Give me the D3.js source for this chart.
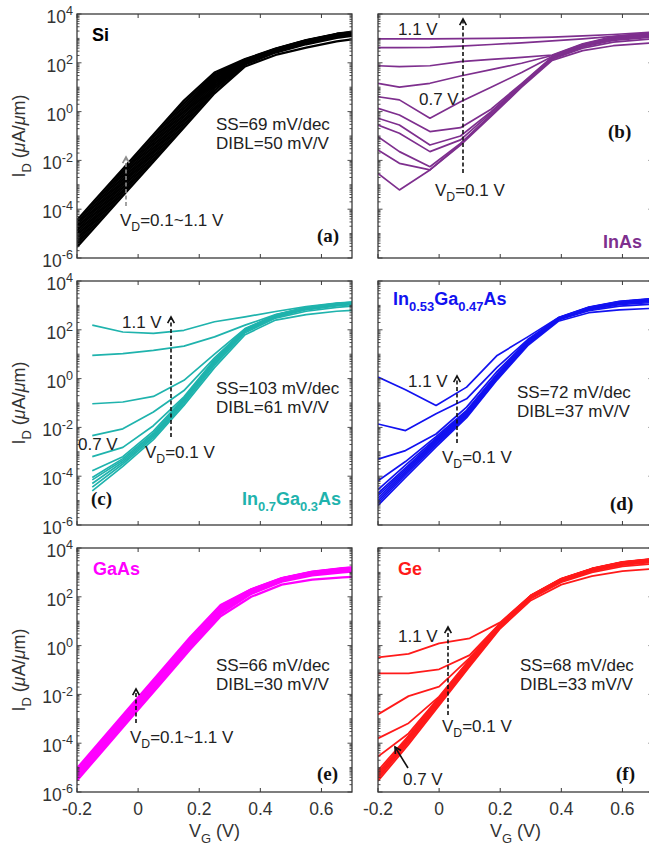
<!DOCTYPE html>
<html>
<head>
<meta charset="utf-8">
<script src="https://cdn.jsdelivr.net/npm/d3@7/dist/d3.min.js"></script>
<style>
  body { margin: 0; background: #fff; }
  svg { display: block; font-family: "Liberation Sans", Arial, sans-serif; }
</style>
</head>
<body>
<svg id="fig" width="649" height="849"></svg>
<script>
// drain voltages, one curve each (bottom -> top)
const vdSteps = [0.1, 0.2, 0.3, 0.4, 0.5, 0.6, 0.7, 0.8, 0.9, 1.0, 1.1];

const xTicks = [-0.2, 0, 0.2, 0.4, 0.6];
const yTickExps = [4, 2, 0, -2, -4, -6];

// log10(ID in uA/um), rows follow vdSteps
const vgSi = [-0.2, -0.15, -0.05, 0.05, 0.15, 0.25, 0.35, 0.45, 0.55, 0.65, 0.7];
const logIdSi = [
  [-5.55, -4.85, -3.45, -2.05, -0.65, 0.75, 1.85, 2.32, 2.62, 2.88, 2.96],
  [-5.44, -4.74, -3.34, -1.94, -0.54, 0.86, 1.93, 2.42, 2.76, 3.02, 3.10],
  [-5.33, -4.63, -3.23, -1.83, -0.43, 0.96, 1.98, 2.47, 2.82, 3.08, 3.16],
  [-5.22, -4.52, -3.12, -1.72, -0.32, 1.05, 2.01, 2.50, 2.85, 3.11, 3.19],
  [-5.11, -4.41, -3.01, -1.61, -0.21, 1.14, 2.03, 2.52, 2.87, 3.13, 3.21],
  [-5.00, -4.30, -2.90, -1.50, -0.10, 1.22, 2.05, 2.53, 2.88, 3.14, 3.22],
  [-4.89, -4.19, -2.79, -1.39, 0.01, 1.30, 2.07, 2.54, 2.89, 3.15, 3.23],
  [-4.78, -4.08, -2.68, -1.28, 0.12, 1.38, 2.09, 2.55, 2.90, 3.16, 3.24],
  [-4.67, -3.97, -2.57, -1.17, 0.23, 1.45, 2.11, 2.56, 2.91, 3.17, 3.25],
  [-4.56, -3.86, -2.46, -1.06, 0.34, 1.52, 2.13, 2.57, 2.92, 3.18, 3.26],
  [-4.45, -3.75, -2.35, -0.95, 0.45, 1.60, 2.15, 2.58, 2.93, 3.19, 3.27]
];

const vgInAs = [-0.2, -0.13, -0.03, 0.07, 0.17, 0.27, 0.37, 0.47, 0.57, 0.7];
const logIdInAs = [
  [-2.53, -3.21, -2.39, -1.37, -0.20, 1.00, 2.10, 2.50, 2.70, 2.82],
  [-1.57, -2.12, -2.39, -1.33, -0.15, 1.05, 2.15, 2.60, 2.85, 2.98],
  [-1.03, -1.64, -2.26, -1.30, -0.12, 1.08, 2.18, 2.65, 2.92, 3.06],
  [-0.55, -0.89, -1.64, -1.16, -0.05, 1.10, 2.20, 2.68, 2.96, 3.10],
  [-0.27, -0.55, -1.37, -1.00, 0.00, 1.12, 2.22, 2.70, 2.99, 3.13],
  [0.13, -0.14, -0.82, -0.66, 0.10, 1.15, 2.24, 2.72, 3.01, 3.16],
  [0.61, 0.48, -0.27, 0.40, 1.00, 1.60, 2.26, 2.74, 3.03, 3.18],
  [1.16, 1.00, 1.16, 1.46, 1.72, 1.98, 2.30, 2.76, 3.05, 3.20],
  [1.88, 1.84, 1.88, 2.05, 2.14, 2.22, 2.32, 2.78, 3.07, 3.22],
  [2.62, 2.62, 2.63, 2.68, 2.75, 2.82, 2.90, 2.98, 3.08, 3.23],
  [2.98, 2.98, 2.98, 2.99, 3.00, 3.02, 3.05, 3.10, 3.16, 3.26]
];

const vgIn70 = [-0.15, -0.05, 0.05, 0.15, 0.25, 0.35, 0.45, 0.55, 0.65, 0.7];
const logIdIn70 = [
  [-4.60, -3.60, -2.50, -1.10, 0.45, 1.80, 2.40, 2.62, 2.76, 2.80],
  [-4.45, -3.50, -2.42, -1.02, 0.55, 1.88, 2.48, 2.76, 2.92, 2.97],
  [-4.30, -3.42, -2.36, -0.96, 0.62, 1.93, 2.52, 2.82, 2.98, 3.03],
  [-4.15, -3.35, -2.30, -0.90, 0.68, 1.96, 2.55, 2.85, 3.01, 3.06],
  [-4.05, -3.28, -2.24, -0.85, 0.72, 1.98, 2.57, 2.87, 3.03, 3.08],
  [-3.78, -3.20, -2.15, -0.80, 0.75, 2.00, 2.58, 2.88, 3.04, 3.09],
  [-3.20, -2.82, -1.93, -0.75, 0.78, 2.02, 2.59, 2.89, 3.05, 3.10],
  [-2.34, -2.06, -1.37, -0.49, 0.85, 2.03, 2.60, 2.90, 3.06, 3.11],
  [-1.03, -0.96, -0.73, -0.07, 1.00, 2.05, 2.61, 2.91, 3.07, 3.12],
  [0.95, 1.02, 1.16, 1.33, 1.71, 2.19, 2.62, 2.92, 3.08, 3.13],
  [2.19, 1.91, 1.85, 1.98, 2.33, 2.53, 2.75, 2.95, 3.09, 3.14]
];

const vgIn53 = [-0.2, -0.11, -0.01, 0.09, 0.19, 0.29, 0.39, 0.49, 0.59, 0.7];
const logIdIn53 = [
  [-5.20, -4.05, -2.80, -1.60, -0.05, 1.35, 2.35, 2.70, 2.82, 2.88],
  [-5.10, -3.95, -2.72, -1.55, 0.00, 1.40, 2.40, 2.78, 2.97, 3.05],
  [-5.00, -3.87, -2.66, -1.50, 0.04, 1.43, 2.42, 2.82, 3.03, 3.12],
  [-4.90, -3.80, -2.60, -1.46, 0.07, 1.45, 2.43, 2.85, 3.07, 3.17],
  [-4.80, -3.73, -2.55, -1.42, 0.10, 1.47, 2.44, 2.87, 3.10, 3.20],
  [-4.70, -3.66, -2.50, -1.38, 0.13, 1.49, 2.45, 2.88, 3.12, 3.22],
  [-4.55, -3.55, -2.45, -1.34, 0.16, 1.50, 2.46, 2.89, 3.13, 3.24],
  [-4.19, -3.40, -2.38, -1.30, 0.20, 1.52, 2.47, 2.90, 3.14, 3.25],
  [-3.30, -2.95, -2.27, -1.17, 0.30, 1.55, 2.48, 2.91, 3.15, 3.26],
  [-1.86, -2.13, -1.44, -0.83, 0.47, 1.60, 2.49, 2.92, 3.16, 3.27],
  [0.06, -0.46, -1.10, -0.35, 0.95, 1.71, 2.50, 2.93, 3.17, 3.28]
];

const vgGaAs = [-0.2, -0.13, -0.03, 0.07, 0.17, 0.27, 0.37, 0.47, 0.57, 0.67, 0.7];
const logIdGaAs = [
  [-5.53, -4.51, -3.06, -1.61, -0.16, 1.20, 2.00, 2.50, 2.70, 2.80, 2.82],
  [-5.48, -4.46, -3.01, -1.56, -0.11, 1.30, 2.12, 2.62, 2.88, 3.00, 3.03],
  [-5.43, -4.41, -2.96, -1.51, -0.06, 1.36, 2.17, 2.66, 2.93, 3.06, 3.09],
  [-5.38, -4.36, -2.91, -1.46, -0.01, 1.41, 2.20, 2.69, 2.96, 3.09, 3.12],
  [-5.33, -4.31, -2.86, -1.41, 0.04, 1.46, 2.23, 2.71, 2.97, 3.11, 3.14],
  [-5.28, -4.26, -2.81, -1.36, 0.09, 1.50, 2.25, 2.72, 2.98, 3.12, 3.15],
  [-5.23, -4.21, -2.76, -1.31, 0.14, 1.54, 2.27, 2.73, 2.99, 3.13, 3.16],
  [-5.18, -4.16, -2.71, -1.26, 0.19, 1.57, 2.28, 2.74, 3.00, 3.14, 3.17],
  [-5.13, -4.11, -2.66, -1.21, 0.24, 1.60, 2.29, 2.75, 3.01, 3.15, 3.18],
  [-5.08, -4.06, -2.61, -1.16, 0.29, 1.63, 2.30, 2.76, 3.02, 3.16, 3.19],
  [-5.03, -4.01, -2.56, -1.11, 0.34, 1.66, 2.31, 2.77, 3.03, 3.17, 3.20]
];

const vgGe = [-0.2, -0.1, 0, 0.1, 0.2, 0.3, 0.4, 0.5, 0.6, 0.7];
const logIdGe = [
  [-5.55, -4.05, -2.45, -0.85, 0.70, 1.85, 2.50, 2.85, 3.05, 3.15],
  [-5.45, -3.96, -2.38, -0.80, 0.75, 1.92, 2.60, 3.00, 3.25, 3.35],
  [-5.38, -3.89, -2.32, -0.76, 0.78, 1.96, 2.64, 3.05, 3.30, 3.42],
  [-5.30, -3.83, -2.27, -0.72, 0.80, 1.98, 2.67, 3.08, 3.34, 3.46],
  [-5.22, -3.77, -2.22, -0.68, 0.82, 2.00, 2.69, 3.10, 3.36, 3.49],
  [-5.12, -3.70, -2.16, -0.64, 0.84, 2.02, 2.71, 3.12, 3.38, 3.51],
  [-4.55, -3.60, -2.12, -0.60, 0.86, 2.03, 2.72, 3.13, 3.40, 3.53],
  [-3.80, -3.18, -2.09, -0.56, 0.88, 2.04, 2.73, 3.14, 3.41, 3.54],
  [-2.82, -2.07, -1.68, -0.50, 0.90, 2.05, 2.74, 3.15, 3.42, 3.55],
  [-1.14, -1.14, -0.97, -0.39, 0.92, 2.05, 2.74, 3.15, 3.42, 3.55],
  [-0.48, -0.34, 0.09, 0.30, 0.95, 2.06, 2.75, 3.16, 3.43, 3.56]
];

const ssText = ["SS=69 mV/dec", "", "SS=103 mV/dec", "SS=72 mV/dec", "SS=66 mV/dec", "SS=68 mV/dec"];
const diblText = ["DIBL=50 mV/V", "", "DIBL=61 mV/V", "DIBL=37 mV/V", "DIBL=30 mV/V", "DIBL=33 mV/V"];

// layout
const PW = 275, PH = 244;
const colX = [77, 378], rowY = [14, 281, 548];
const axisColor = "#3a3a3a";

const x = d3.scaleLinear().domain([-0.2, 0.7]).range([0, PW]);
const y = d3.scaleLog().domain([1e-6, 1e4]).range([PH, 0]);

const svg = d3.select("#fig");
const defs = svg.append("defs");

// text with sub/superscripts: parts = [[str, kind]], kind in sub|sup|it
function rich(g, px, py, parts, size, opt) {
  opt = opt || {};
  const t = g.append("text").attr("x", px).attr("y", py)
    .attr("font-size", size)
    .attr("fill", opt.fill || "#222")
    .attr("text-anchor", opt.anchor || "start");
  if (opt.weight) t.attr("font-weight", opt.weight);
  if (opt.transform) t.attr("transform", opt.transform);
  let shift = 0;
  parts.forEach(p => {
    const s = t.append("tspan").text(p[0]);
    let want = 0;
    if (p[1] === "sub") { want = size * 0.32; s.attr("font-size", size * 0.72); }
    if (p[1] === "sup") { want = -size * 0.45; s.attr("font-size", size * 0.72); }
    if (p[1] === "it") s.attr("font-style", "italic");
    if (want !== shift) { s.attr("dy", want - shift); shift = want; }
  });
  return t;
}

function arrow(g, x1, y1, x2, y2, color, dashed) {
  g.append("line").attr("x1", x1).attr("y1", y1).attr("x2", x2).attr("y2", y2)
    .attr("stroke", color).attr("stroke-width", 1.6)
    .attr("stroke-dasharray", dashed ? "4,2.5" : null);
  const a = Math.atan2(y2 - y1, x2 - x1), L = 7, w = 0.5;
  const p1 = [x2 - L * Math.cos(a - w), y2 - L * Math.sin(a - w)];
  const p2 = [x2 - L * Math.cos(a + w), y2 - L * Math.sin(a + w)];
  g.append("path").attr("d", `M${p1}L${x2},${y2}L${p2}`)
    .attr("fill", "none").attr("stroke", color).attr("stroke-width", 1.6);
}

const panels = [
  { tag: "(a)", col: 0, row: 0, vg: vgSi, data: logIdSi, color: "#000000", lw: 2.3,
    name: [["Si"]], nameAt: [15, 27, "start"], tagAt: [240, 228], ssAt: [139, 116],
    arrows: [[49, 192, 49, 143, "#8c8c8c", true]],
    notes: [[43, 212, [["V"], ["D", "sub"], ["=0.1~1.1 V"]]]] },
  { tag: "(b)", col: 1, row: 0, vg: vgInAs, data: logIdInAs, color: "#7e2f8e", lw: 1.7,
    name: [["InAs"]], nameAt: [264, 234, "end"], tagAt: [230, 124], ssAt: null,
    arrows: [[85, 159, 85, 5, "#111", true]],
    notes: [[20, 21, [["1.1 V"]]], [41, 91, [["0.7 V"]]], [57, 182, [["V"], ["D", "sub"], ["=0.1 V"]]]] },
  { tag: "(c)", col: 0, row: 1, vg: vgIn70, data: logIdIn70, color: "#1fb3ad", lw: 1.7,
    name: [["In"], ["0.7", "sub"], ["Ga"], ["0.3", "sub"], ["As"]], nameAt: [264, 224, "end"], tagAt: [14, 224], ssAt: [139, 113],
    arrows: [[94, 156, 94, 36, "#111", true]],
    notes: [[45, 47, [["1.1 V"]]], [1, 169, [["0.7 V"]]], [68, 177, [["V"], ["D", "sub"], ["=0.1 V"]]]] },
  { tag: "(d)", col: 1, row: 1, vg: vgIn53, data: logIdIn53, color: "#1212f0", lw: 1.7,
    name: [["In"], ["0.53", "sub"], ["Ga"], ["0.47", "sub"], ["As"]], nameAt: [15, 24, "start"], tagAt: [232, 229], ssAt: [139, 117],
    arrows: [[79, 162, 79, 95, "#111", true]],
    notes: [[30, 106, [["1.1 V"]]], [64, 182, [["V"], ["D", "sub"], ["=0.1 V"]]]] },
  { tag: "(e)", col: 0, row: 2, vg: vgGaAs, data: logIdGaAs, color: "#ff00ff", lw: 2.3,
    name: [["GaAs"]], nameAt: [16, 27, "start"], tagAt: [240, 232], ssAt: [139, 123],
    arrows: [[59, 175, 59, 141, "#111", true]],
    notes: [[53, 195, [["V"], ["D", "sub"], ["=0.1~1.1 V"]]]] },
  { tag: "(f)", col: 1, row: 2, vg: vgGe, data: logIdGe, color: "#ff1a1a", lw: 1.8,
    name: [["Ge"]], nameAt: [20, 27, "start"], tagAt: [238, 232], ssAt: [142, 123],
    arrows: [[70, 167, 70, 79, "#111", true], [30, 220, 17, 199, "#111", false]],
    notes: [[20, 94, [["1.1 V"]]], [64, 184, [["V"], ["D", "sub"], ["=0.1 V"]]], [25, 237, [["0.7 V"]]]] }
];

panels.forEach((p, k) => {
  const g = svg.append("g").attr("transform", `translate(${colX[p.col]},${rowY[p.row]})`);
  const clipId = "clip" + k;
  defs.append("clipPath").attr("id", clipId)
    .append("rect").attr("x", 0).attr("y", 0).attr("width", PW).attr("height", PH);

  // curves
  const line = d3.line().x((d, i) => x(p.vg[i])).y(d => y(Math.pow(10, d)));
  g.append("g").attr("clip-path", `url(#${clipId})`)
    .selectAll("path").data(p.data).join("path")
    .attr("d", line)
    .attr("fill", "none")
    .attr("stroke", p.color)
    .attr("stroke-width", p.lw)
    .attr("stroke-linejoin", "round");

  // box
  g.append("rect").attr("x", 0).attr("y", 0).attr("width", PW).attr("height", PH)
    .attr("fill", "none").attr("stroke", axisColor).attr("stroke-width", 1.3);

  // x ticks (top and bottom, inward)
  xTicks.forEach(v => {
    const tx = x(v);
    g.append("line").attr("x1", tx).attr("x2", tx).attr("y1", PH).attr("y2", PH - 4)
      .attr("stroke", axisColor).attr("stroke-width", 1);
    g.append("line").attr("x1", tx).attr("x2", tx).attr("y1", 0).attr("y2", 4)
      .attr("stroke", axisColor).attr("stroke-width", 1);
  });

  // y ticks: major on even decades, minor elsewhere, both sides
  for (let e = -6; e <= 4; e++) {
    for (let m = 1; m <= 9; m++) {
      if (e === 4 && m > 1) break;
      const v = m * Math.pow(10, e);
      const ty = y(v);
      const len = (m === 1 && e % 2 === 0) ? 4.5 : 2.5;
      g.append("line").attr("x1", 0).attr("x2", len).attr("y1", ty).attr("y2", ty)
        .attr("stroke", axisColor).attr("stroke-width", 0.9);
      g.append("line").attr("x1", PW).attr("x2", PW - len).attr("y1", ty).attr("y2", ty)
        .attr("stroke", axisColor).attr("stroke-width", 0.9);
    }
  }

  // y tick labels and y label on the left column
  if (p.col === 0) {
    yTickExps.forEach(e => {
      rich(g, -4, y(Math.pow(10, e)) + 9, [["10"], [String(e), "sup"]], 17.5, { anchor: "end", fill: "#333" });
    });
    rich(g, -52, PH / 2, [["I"], ["D", "sub"], [" ("], ["\u03bc", "it"], ["A/"], ["\u03bc", "it"], ["m)"]], 18,
      { anchor: "middle", fill: "#333", transform: `rotate(-90,-52,${PH / 2})` });
  }

  // x tick labels and x label on the bottom row
  if (p.row === 2) {
    xTicks.forEach(v => {
      g.append("text").attr("x", x(v)).attr("y", PH + 23)
        .attr("text-anchor", "middle").attr("font-size", 17.5).attr("fill", "#333")
        .text(v === 0 ? "0" : String(v));
    });
    rich(g, PW / 2, PH + 45, [["V"], ["G", "sub"], [" (V)"]], 18, { anchor: "middle", fill: "#333" });
  }

  // material name
  rich(g, p.nameAt[0], p.nameAt[1], p.name, 18, { anchor: p.nameAt[2], fill: p.color, weight: "bold" });

  // panel tag
  g.append("text").attr("x", p.tagAt[0]).attr("y", p.tagAt[1])
    .attr("font-family", "'Liberation Serif', 'Times New Roman', serif")
    .attr("font-weight", "bold").attr("font-size", 19).attr("fill", "#111")
    .text(p.tag);

  // SS / DIBL
  if (p.ssAt) {
    rich(g, p.ssAt[0], p.ssAt[1], [[ssText[k]]], 17, {});
    rich(g, p.ssAt[0], p.ssAt[1] + 19, [[diblText[k]]], 17, {});
  }

  p.arrows.forEach(a => arrow(g, a[0], a[1], a[2], a[3], a[4], a[5]));
  p.notes.forEach(n => rich(g, n[0], n[1], n[2], 17, {}));
});
</script>
</body>
</html>
